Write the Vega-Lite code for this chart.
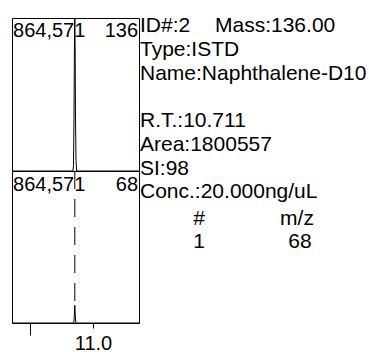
{
  "$schema": "https://vega.github.io/schema/vega-lite/v6.json",
  "padding": {"left": 11, "top": 15, "right": 0, "bottom": 0},
  "background": "white",
  "spacing": 0,
  "config": {
    "view": {"stroke": "black", "strokeWidth": 1},
    "font": "Liberation Sans",
    "text": {"font": "Liberation Sans", "fontSize": 20, "color": "black"},
    "concat": {"spacing": 0}
  },
  "datasets": {
    "mz136": [
      {"t": 9.714, "v": 0},
      {"t": 10.680, "v": 0},
      {"t": 10.690, "v": 30000},
      {"t": 10.698, "v": 300000},
      {"t": 10.705, "v": 700000},
      {"t": 10.711, "v": 864571},
      {"t": 10.716, "v": 700000},
      {"t": 10.722, "v": 300000},
      {"t": 10.730, "v": 60000},
      {"t": 10.740, "v": 0},
      {"t": 11.730, "v": 0}
    ],
    "mz68": [
      {"t": 9.714, "v": 0},
      {"t": 10.695, "v": 0},
      {"t": 10.703, "v": 40000},
      {"t": 10.711, "v": 100000},
      {"t": 10.719, "v": 40000},
      {"t": 10.727, "v": 0},
      {"t": 11.730, "v": 0}
    ],
    "rt": [{"t": 10.711, "top": 864571, "bottom": 118000}],
    "info": [
      {"line": 0.60, "col": 0.0, "text": "ID#:2"},
      {"line": 0.60, "col": 3.75, "text": "Mass:136.00"},
      {"line": 1.62, "col": 0.0, "text": "Type:ISTD"},
      {"line": 2.64, "col": 0.0, "text": "Name:Naphthalene-D10"},
      {"line": 4.64, "col": 0.0, "text": "R.T.:10.711"},
      {"line": 5.66, "col": 0.0, "text": "Area:1800557"},
      {"line": 6.68, "col": 0.0, "text": "SI:98"},
      {"line": 7.66, "col": 0.0, "text": "Conc.:20.000ng/uL"}
    ],
    "table": [
      {"line": 8.81, "col": 2.95, "text": "#"},
      {"line": 8.81, "col": 7.85, "text": "m/z"},
      {"line": 9.79, "col": 2.95, "text": "1"},
      {"line": 9.79, "col": 8.0, "text": "68"}
    ],
    "tableRight": [
      {"line": 8.81, "col": 11.5, "text": "Int."}
    ],
    "lab136": [{"tl": 9.73, "tr": 11.715, "v": 864571, "left": "864,571", "right": "136"}],
    "lab68": [{"tl": 9.73, "tr": 11.715, "v": 864571, "left": "864,571", "right": "68"}]
  },
  "hconcat": [
    {
      "spacing": 0,
      "bounds": "flush",
      "vconcat": [
        {
          "width": 127,
          "height": 153,
          "layer": [
            {
              "data": {"name": "mz136"},
              "mark": {"type": "line", "color": "black", "strokeWidth": 1, "clip": true},
              "encoding": {
                "x": {"field": "t", "type": "quantitative", "scale": {"domain": [9.714, 11.73], "nice": false, "zero": false}, "axis": null},
                "y": {"field": "v", "type": "quantitative", "scale": {"domain": [0, 864571], "nice": false}, "axis": null}
              }
            },
            {
              "data": {"name": "lab136"},
              "mark": {"type": "text", "align": "left", "baseline": "top", "dy": 3},
              "encoding": {
                "x": {"field": "tl", "type": "quantitative"},
                "y": {"field": "v", "type": "quantitative"},
                "text": {"field": "left"}
              }
            },
            {
              "data": {"name": "lab136"},
              "mark": {"type": "text", "align": "right", "baseline": "top", "dy": 3},
              "encoding": {
                "x": {"field": "tr", "type": "quantitative"},
                "y": {"field": "v", "type": "quantitative"},
                "text": {"field": "right"}
              }
            }
          ]
        },
        {
          "width": 127,
          "height": 152,
          "layer": [
            {
              "data": {"name": "rt"},
              "mark": {"type": "rule", "color": "black", "strokeWidth": 1, "strokeDash": [18, 10]},
              "encoding": {
                "x": {"field": "t", "type": "quantitative", "scale": {"domain": [9.714, 11.73], "nice": false, "zero": false},
                  "axis": {
                    "orient": "bottom",
                    "values": [10, 11],
                    "title": null,
                    "domain": false,
                    "grid": false,
                    "tickColor": "black",
                    "tickWidth": 1,
                    "tickSize": {"condition": {"test": "datum.value == 10", "value": 12}, "value": 5},
                    "labelExpr": "datum.value == 11 ? '11.0' : ''",
                    "labelFont": "Liberation Sans",
                    "labelFontSize": 20,
                    "labelColor": "black",
                    "labelPadding": 5,
                    "labelFlush": false
                  }
                },
                "y": {"field": "top", "type": "quantitative", "scale": {"domain": [0, 864571], "nice": false}, "axis": null},
                "y2": {"field": "bottom"}
              }
            },
            {
              "data": {"name": "mz68"},
              "mark": {"type": "line", "color": "black", "strokeWidth": 1, "clip": true},
              "encoding": {
                "x": {"field": "t", "type": "quantitative"},
                "y": {"field": "v", "type": "quantitative"}
              }
            },
            {
              "data": {"name": "lab68"},
              "mark": {"type": "text", "align": "left", "baseline": "top", "dy": 4},
              "encoding": {
                "x": {"field": "tl", "type": "quantitative"},
                "y": {"field": "v", "type": "quantitative"},
                "text": {"field": "left"}
              }
            },
            {
              "data": {"name": "lab68"},
              "mark": {"type": "text", "align": "right", "baseline": "top", "dy": 4},
              "encoding": {
                "x": {"field": "tr", "type": "quantitative"},
                "y": {"field": "v", "type": "quantitative"},
                "text": {"field": "right"}
              }
            }
          ]
        }
      ]
    },
    {
      "width": 231,
      "height": 305,
      "view": {"stroke": null},
      "layer": [
        {
          "data": {"name": "info"},
          "mark": {"type": "text", "align": "left", "baseline": "alphabetic", "fontSize": 21},
          "encoding": {
            "x": {"field": "col", "type": "quantitative", "scale": {"domain": [0, 11.55], "nice": false}, "axis": null},
            "y": {"field": "line", "type": "quantitative", "scale": {"domain": [0, 12.98], "nice": false, "reverse": true}, "axis": null},
            "text": {"field": "text"}
          }
        },
        {
          "data": {"name": "table"},
          "mark": {"type": "text", "align": "center", "baseline": "alphabetic", "fontSize": 21},
          "encoding": {
            "x": {"field": "col", "type": "quantitative"},
            "y": {"field": "line", "type": "quantitative"},
            "text": {"field": "text"}
          }
        },
        {
          "data": {"name": "tableRight"},
          "mark": {"type": "text", "align": "left", "baseline": "alphabetic", "fontSize": 21},
          "encoding": {
            "x": {"field": "col", "type": "quantitative"},
            "y": {"field": "line", "type": "quantitative"},
            "text": {"field": "text"}
          }
        }
      ]
    }
  ]
}
